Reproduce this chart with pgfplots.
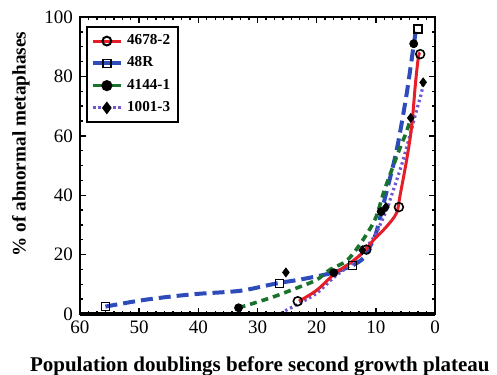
\documentclass[border=0pt]{standalone}
\usepackage{pgfplots}
\pgfplotsset{compat=1.18}
\usepackage{fontspec}
\setmainfont{Liberation Serif}
\definecolor{cred}{RGB}{230,30,40}
\definecolor{cblue}{RGB}{45,75,185}
\definecolor{cgreen}{RGB}{25,115,45}
\definecolor{cpurple}{RGB}{115,85,205}
\begin{document}
\begin{tikzpicture}
\begin{axis}[
  scale only axis, width=177.5pt, height=148.5pt,
  x dir=reverse, xmin=0, xmax=60, ymin=0, ymax=100,
  xtick={0,10,...,60}, ytick={0,20,...,100},
  minor x tick num=6, minor y tick num=3,
  tick align=inside, major tick length=3pt, minor tick length=1.6pt,
  every tick/.style={black, line width=0.7pt},
  axis line style={line width=0.9pt},
  /pgf/number format/assume math mode=true,
  tick label style={font=\fontsize{9.5}{11}\selectfont},
  xlabel={\bfseries Population doublings before second growth plateau},
  ylabel={\bfseries \% of abnormal metaphases},
  xlabel style={at={(rel axis cs:0,0)}, anchor=base west, xshift=-28.5pt, yshift=-28.5pt, font=\bfseries\fontsize{10.5}{12}\selectfont},
  ylabel style={at={(rel axis cs:0,0.572)}, anchor=center, rotate=0, yshift=29.5pt, font=\bfseries\fontsize{9.6}{11}\selectfont},
  legend style={at={(rel axis cs:0.017,0.97)}, anchor=north west, draw=black, line width=1pt,
    font=\bfseries\fontsize{7.6}{9}\selectfont, row sep=0.6pt, inner sep=1.8pt},
  legend cell align=left,
  legend image code/.code={\draw[mark repeat=2,mark phase=2,#1] plot coordinates {(0cm,0cm) (0.25cm,0cm) (0.5cm,0cm)};},
  clip=false,
]
\addlegendimage{cred, line width=1.5pt, mark=o, mark options={solid, black, line width=1pt, scale=1.1}}
\addlegendentry{4678-2}
\addlegendimage{cblue, line width=2pt, mark=square, mark options={solid, black, line width=0.8pt}}
\addlegendentry{48R}
\addlegendimage{cgreen, line width=1.5pt, mark=*, mark options={solid, black}}
\addlegendentry{4144-1}
\addlegendimage{cpurple, line width=1.5pt, densely dotted, mark=diamond*, mark options={solid, black}}
\addlegendentry{1001-3}
% lines
\addplot[cblue, line width=2pt, dash pattern=on 6pt off 3pt, smooth, forget plot] coordinates {
(55.7,2.5) (50,4.5) (45,5.8) (40,6.8) (33,7.8) (28,9.8) (26,10.6) (22.8,11.6) (17.7,13.7) (14,16.3) (12,19) (11,22.7) (10,27) (8.4,39.5) (6.5,55) (4.8,74) (3.3,94.5) (2.9,96)};
\addplot[cgreen, line width=1.8pt, dash pattern=on 3.5pt off 2.5pt, smooth, forget plot] coordinates {
(33.2,2.1) (30.7,3.6) (27,6) (22.8,9.2) (20,11.5) (17.7,15) (14.9,18) (12.5,24) (10.1,32) (8.5,42) (5.9,56) (4.8,61.4) (4.1,66)};
\addplot[cpurple, line width=1.6pt, dash pattern=on 1.2pt off 1.5pt, smooth, forget plot] coordinates {
(26,0) (25.6,0.8) (23,3.5) (20,7) (17,12.5) (14,17) (12,21.5) (10,27) (8,36) (7.6,38.4) (5.4,51.8) (3.1,68.7) (2.3,74.3) (2,78)};
\addplot[cred, line width=1.5pt, smooth, forget plot] coordinates {
(23,4.3) (20,8) (17,13.5) (14.4,17.1) (12,21) (10.4,24.9) (8.2,29.4) (6.5,34) (5.9,40) (4.8,51.8) (3.95,63) (3.3,77.7) (2.8,86.6) (2.5,88)};
% markers
\addplot[only marks, mark=o, mark options={black, line width=0.8pt, scale=1.1, fill=white}, forget plot] coordinates {
(23.2,4.3) (11.6,21.7) (6.1,36) (2.5,87.5)};
\addplot[only marks, mark=square, mark options={black, line width=0.7pt, fill=white}, forget plot] coordinates {
(55.7,2.5) (26.3,10.3) (13.9,16.3) (2.9,96)};
\addplot[only marks, mark=*, mark options={black}, forget plot] coordinates {
(33.2,2.1) (17.1,13.9) (9.1,34.5) (3.6,91)};
\addplot[only marks, mark=diamond*, mark options={black, scale=1.1}, forget plot] coordinates {
(25.2,14) (12.3,21.5) (8.3,36) (4.1,66) (2.0,78)};
\draw[line width=2.2pt, black] (rel axis cs:0,0) -- (rel axis cs:1,0);
\coordinate (sw) at (rel axis cs:0,0);
\coordinate (ne) at (rel axis cs:1,1);
\end{axis}
\pgfresetboundingbox
\path[use as bounding box] ([xshift=-40pt,yshift=-30pt]sw) rectangle ([xshift=31pt,yshift=8.5pt]ne);
\end{tikzpicture}
\end{document}
